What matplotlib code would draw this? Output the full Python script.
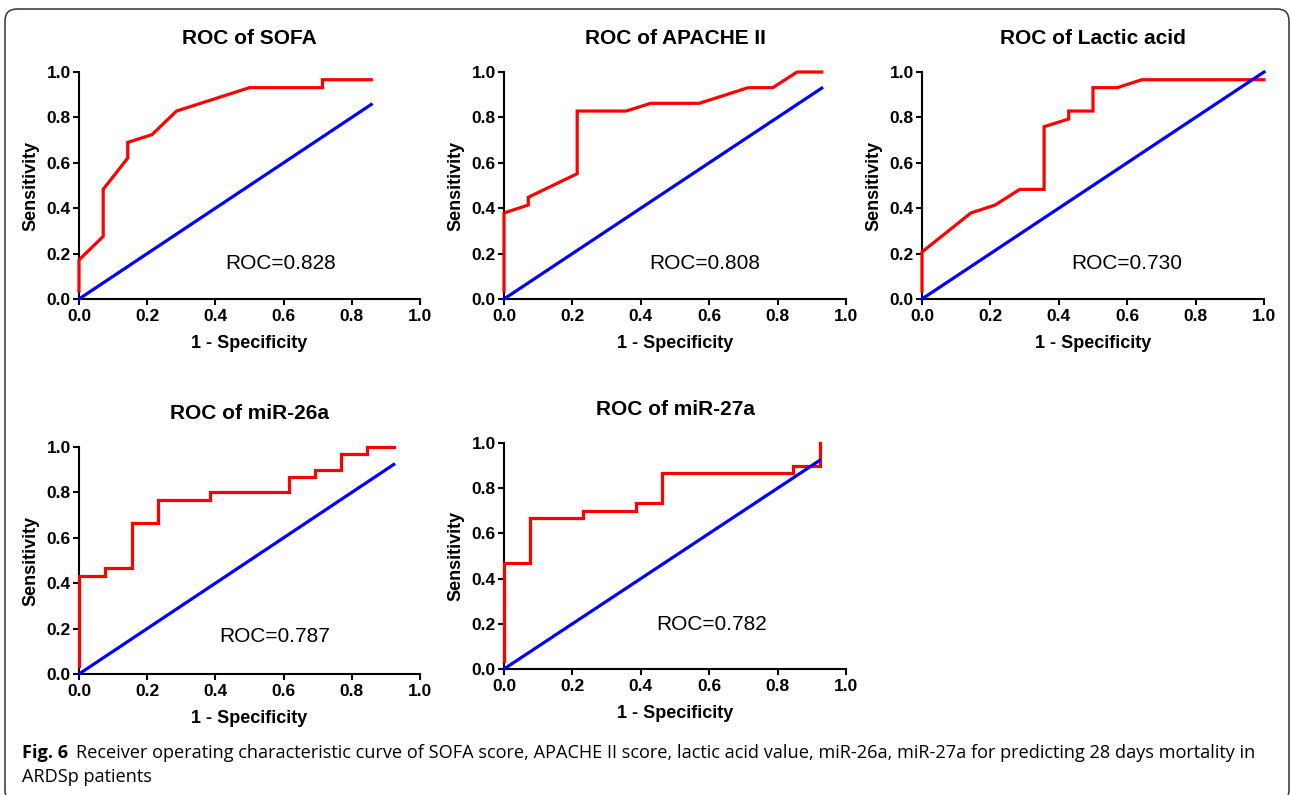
import matplotlib
matplotlib.use('Agg')
import matplotlib.pyplot as plt
from matplotlib import font_manager
from matplotlib.patches import FancyBboxPatch

titles = ['ROC of SOFA', 'ROC of APACHE II', 'ROC of Lactic acid',
          'ROC of miR-26a', 'ROC of miR-27a']
auc_labels = ['ROC=0.828', 'ROC=0.808', 'ROC=0.730', 'ROC=0.787', 'ROC=0.782']

# 1 - specificity / sensitivity
sofa_fpr = [0.0, 0.0, 0.071, 0.071, 0.143, 0.143, 0.214, 0.286, 0.5, 0.714, 0.714, 0.857]
sofa_tpr = [0.035, 0.172, 0.276, 0.483, 0.621, 0.690, 0.724, 0.828, 0.931, 0.931, 0.966, 0.966]

apache_fpr = [0.0, 0.0, 0.071, 0.071, 0.214, 0.214, 0.357, 0.429, 0.571, 0.714, 0.786, 0.857, 0.929]
apache_tpr = [0.035, 0.379, 0.414, 0.448, 0.552, 0.828, 0.828, 0.862, 0.862, 0.931, 0.931, 1.0, 1.0]

lactic_fpr = [0.0, 0.0, 0.143, 0.214, 0.286, 0.357, 0.357, 0.429, 0.429, 0.5, 0.5, 0.571, 0.643, 1.0]
lactic_tpr = [0.035, 0.207, 0.379, 0.414, 0.483, 0.483, 0.759, 0.793, 0.828, 0.828, 0.931, 0.931, 0.966, 0.966]

mir26_fpr = [0.0, 0.0, 0.077, 0.077, 0.154, 0.154, 0.231, 0.231, 0.385, 0.385, 0.615, 0.615,
             0.692, 0.692, 0.769, 0.769, 0.846, 0.846, 0.923]
mir26_tpr = [0.035, 0.433, 0.433, 0.467, 0.467, 0.667, 0.667, 0.767, 0.767, 0.8, 0.8, 0.867,
             0.867, 0.9, 0.9, 0.967, 0.967, 1.0, 1.0]

mir27_fpr = [0.0, 0.0, 0.077, 0.077, 0.231, 0.231, 0.385, 0.385, 0.462, 0.462, 0.846, 0.846,
             0.923, 0.923]
mir27_tpr = [0.035, 0.467, 0.467, 0.667, 0.667, 0.7, 0.7, 0.733, 0.733, 0.867, 0.867, 0.9,
             0.9, 1.0]

curves = [(sofa_fpr, sofa_tpr), (apache_fpr, apache_tpr), (lactic_fpr, lactic_tpr),
          (mir26_fpr, mir26_tpr), (mir27_fpr, mir27_tpr)]

# where the ROC=... text sits (data coords)
label_pos = [(0.59, 0.156), (0.588, 0.156), (0.598, 0.156), (0.575, 0.164), (0.606, 0.196)]

# axes boxes in pixels: left, right, top, bottom
boxes = [(79, 420, 72, 299), (504, 846, 72, 299), (922, 1264, 72, 299),
         (79, 420, 447, 674), (504, 846, 443, 669)]

W, H = 1290, 795
plt.rcParams['font.family'] = ['Liberation Sans', 'DejaVu Sans']
fig = plt.figure(figsize=(W / 100, H / 100), dpi=100)

for i, (fpr, tpr) in enumerate(curves):
    l, r, t, b = boxes[i]
    ax = fig.add_axes([l / W, 1 - b / H, (r - l) / W, (b - t) / H])
    ax.plot(fpr, tpr, color='#ff0000', lw=2.3, zorder=3, clip_on=False,
            solid_joinstyle='miter')
    end = max(fpr)
    ax.plot([0, end], [0, end], color='#0000ff', lw=2.3, zorder=4, clip_on=False)
    ax.set_xlim(0, 1)
    ax.set_ylim(0, 1)
    ax.set_xticks([0, 0.2, 0.4, 0.6, 0.8, 1.0])
    ax.set_yticks([0, 0.2, 0.4, 0.6, 0.8, 1.0])
    ax.xaxis.set_major_formatter(matplotlib.ticker.FormatStrFormatter('%.1f'))
    ax.yaxis.set_major_formatter(matplotlib.ticker.FormatStrFormatter('%.1f'))
    for s in ['top', 'right']:
        ax.spines[s].set_visible(False)
    for s in ['left', 'bottom']:
        ax.spines[s].set_linewidth(1.5)
    ax.tick_params(axis='both', direction='out', length=4.3, width=1.5, labelsize=12.5)
    ax.tick_params(axis='y', pad=1.5)
    ax.tick_params(axis='x', pad=3)
    for lab in ax.get_xticklabels() + ax.get_yticklabels():
        lab.set_fontweight('bold')
    ax.set_xlabel('1 - Specificity', fontsize=13, fontweight='bold', labelpad=8)
    ax.set_ylabel('Sensitivity', fontsize=13, fontweight='bold', labelpad=5)
    ax.set_title(titles[i], fontsize=15, fontweight='bold', pad=20)
    ax.text(label_pos[i][0], label_pos[i][1], auc_labels[i], fontsize=15,
            ha='center', va='center')

# caption
names = {f.name for f in font_manager.fontManager.ttflist}
cap_font = 'Liberation Sans Narrow' if 'Liberation Sans Narrow' in names else 'Open Sans'
cap_size = 11
t1 = fig.text(22 / W, 1 - 753 / H, 'Fig. 6', fontsize=cap_size, fontweight='bold',
              family=cap_font, va='center')
rest = ('Receiver operating characteristic curve of SOFA score, APACHE II score, lactic acid '
        'value, miR-26a, miR-27a for predicting 28 days mortality in')
t2 = fig.text(0, 1 - 753 / H, rest, fontsize=cap_size, family=cap_font, va='center')
t3 = fig.text(22 / W, 1 - 777 / H, 'ARDSp patients', fontsize=cap_size, family=cap_font,
              va='center')
fig.canvas.draw()
r = fig.canvas.get_renderer()
w1 = t1.get_window_extent(r).width
w2 = t2.get_window_extent(r).width
scale = (1255 - 22 - 8) / (w1 + w2)
for t in (t1, t2, t3):
    t.set_fontsize(cap_size * scale)
fig.canvas.draw()
w1 = t1.get_window_extent(r).width
t2.set_x((22 + w1 + 8) / W)

# rounded frame
frame = FancyBboxPatch((5, H - 802), 1284, 793, boxstyle='round,pad=0,rounding_size=12',
                       transform=None, fill=False, edgecolor='#333333', lw=1.1)
fig.patches.append(frame)

fig.savefig('out.png', dpi=100)
